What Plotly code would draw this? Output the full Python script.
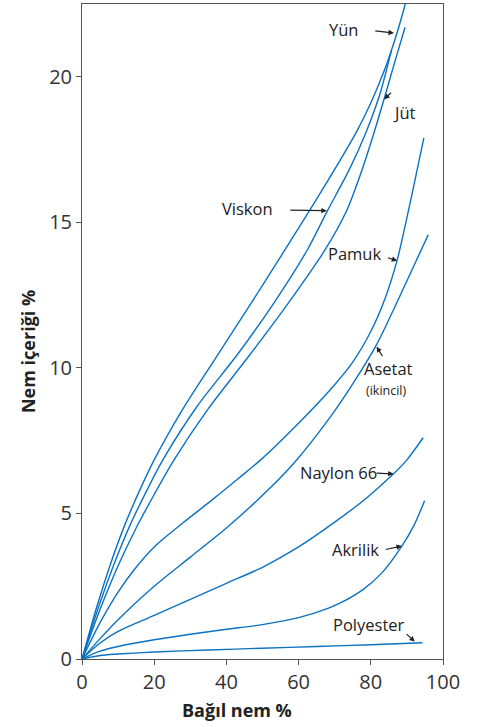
import plotly.graph_objects as go

# Relative humidity (%) and moisture content (%) for each fibre
rh_yun = [0, 4, 8, 12, 16, 20, 28, 37.6, 47, 56.2, 66, 76, 80, 84, 87, 89, 91]
yun    = [0, 1.75, 3.3, 4.65, 5.8, 6.84, 8.6, 10.45, 12.25, 14.05, 16.0, 18.1, 19.1, 20.3, 21.4, 22.25, 23.2]

rh_vis = [0, 4.5, 9, 13.5, 18, 22.4, 32, 43, 53, 62.4, 68, 74, 78.6, 82.5, 85.7]
vis    = [0, 1.75, 3.3, 4.65, 5.8, 6.84, 8.7, 10.45, 12.2, 14.05, 15.4, 16.8, 18.07, 19.4, 20.9]

rh_jut = [0, 5, 10, 15, 20, 25.5, 35, 46.5, 57, 67.3, 73.3, 77, 80.7, 83.6, 86.5, 89.5]
jut    = [0, 1.7, 3.2, 4.5, 5.65, 6.84, 8.6, 10.45, 12.2, 14.05, 15.4, 16.6, 18.0, 19.2, 20.45, 21.7]

rh_pam = [0, 5, 10, 15, 20, 28, 36.4, 43.3, 49.5, 60.4, 68.7, 75, 80.2, 84, 87.3, 91.3, 94.7]
pam    = [0, 1.25, 2.3, 3.15, 3.85, 4.68, 5.5, 6.2, 6.84, 8.15, 9.24, 10.2, 11.3, 12.4, 13.7, 15.9, 17.9]

rh_ase = [0, 5, 10, 20, 30, 40, 49.8, 58.5, 68.7, 75, 81.6, 88, 95.9]
ase    = [0, 0.7, 1.35, 2.5, 3.5, 4.5, 5.6, 6.7, 8.3, 9.45, 10.8, 12.45, 14.57]

rh_nay = [0, 5, 10, 20, 30, 40, 50, 60, 70, 79, 86.3, 90, 94.5]
nay    = [0, 0.55, 0.95, 1.5, 2.05, 2.6, 3.15, 3.85, 4.7, 5.55, 6.36, 6.84, 7.6]

rh_akr = [0, 5, 10, 20, 30, 40, 50, 60, 68.3, 72, 78, 83, 88.6, 92, 94.9]
akr    = [0, 0.27, 0.43, 0.66, 0.85, 1.02, 1.18, 1.42, 1.75, 1.95, 2.4, 2.95, 3.88, 4.6, 5.44]

rh_pol = [0, 5, 10, 20, 35, 49.8, 65, 80, 94.3]
pol    = [0, 0.12, 0.17, 0.24, 0.31, 0.37, 0.43, 0.49, 0.56]

series = [
    ("Yün", rh_yun, yun), ("Viskon", rh_vis, vis), ("Jüt", rh_jut, jut),
    ("Pamuk", rh_pam, pam), ("Asetat", rh_ase, ase), ("Naylon 66", rh_nay, nay),
    ("Akrilik", rh_akr, akr), ("Polyester", rh_pol, pol),
]

x_ticks = [0, 20, 40, 60, 80, 100]
y_ticks = [0, 5, 10, 15, 20]

# label text, text position, arrow tail, arrow tip
labels = [
    ("Yün", 72.3, 21.62, 80.8, 21.58, 86.4, 21.5),
    ("Jüt", 89.4, 18.78, 86.0, 19.5, 83.7, 19.23),
    ("Viskon", 45.9, 15.46, 57.3, 15.42, 67.8, 15.4),
    ("Pamuk", 75.4, 13.92, 84.3, 13.8, 87.3, 13.68),
    ("Asetat", 85.0, 9.97, 83.5, 10.35, 81.6, 10.73),
    ("Naylon 66", 71.0, 6.39, 81.2, 6.39, 86.3, 6.36),
    ("Akrilik", 75.7, 3.75, 83.7, 3.75, 88.6, 3.88),
    ("Polyester", 79.5, 1.2, 89.5, 0.9, 92.2, 0.6),
]

color = "#0b72c2"
fig = go.Figure()
for name, xs, ys in series:
    fig.add_trace(go.Scatter(x=xs, y=ys, mode="lines", name=name,
                             line=dict(color=color, width=1.4, shape="spline", smoothing=0.8),
                             showlegend=False, hoverinfo="skip"))

ann = []
for text, tx, ty, ax, ay, hx, hy in labels:
    ann.append(dict(x=tx, y=ty, xref="x", yref="y", text=text, showarrow=False,
                    font=dict(family="Open Sans", size=16.5, color="#222")))
    ann.append(dict(x=hx, y=hy, xref="x", yref="y", ax=ax, ay=ay, axref="x", ayref="y",
                    text="", showarrow=True, arrowhead=2, arrowsize=0.9, arrowwidth=1.2,
                    arrowcolor="#222"))
ann.append(dict(x=84.3, y=9.22, xref="x", yref="y", text="(ikincil)", showarrow=False,
                font=dict(family="Open Sans", size=12.5, color="#222")))
ann.append(dict(x=0.429, y=-0.078, xref="paper", yref="paper", xanchor="center", yanchor="middle",
                text="<b>Bağıl nem %</b>", showarrow=False,
                font=dict(family="Open Sans", size=18, color="#222")))
ann.append(dict(x=-0.149, y=0.469, xref="paper", yref="paper", xanchor="center", yanchor="middle",
                text="<b>Nem içeriği %</b>", showarrow=False, textangle=-90,
                font=dict(family="Open Sans", size=18, color="#222")))

fig.update_layout(
    width=481, height=727,
    margin=dict(l=82, r=38, t=4, b=68),
    paper_bgcolor="white", plot_bgcolor="white",
    annotations=ann,
    xaxis=dict(range=[0, 100], tickvals=x_ticks, ticks="outside", ticklen=5, tickcolor="#555",
               showline=True, mirror=True, linecolor="#555", linewidth=1, showgrid=False,
               zeroline=False, tickfont=dict(family="Open Sans", size=20, color="#333")),
    yaxis=dict(range=[0, 22.5], tickvals=y_ticks, ticks="outside", ticklen=5, tickcolor="#555",
               showline=True, mirror=True, linecolor="#555", linewidth=1, showgrid=False,
               zeroline=False, tickfont=dict(family="Open Sans", size=20, color="#333")),
)

fig.write_html("out.html", config={"displayModeBar": False},
               post_script="document.body.style.margin='0px';")
